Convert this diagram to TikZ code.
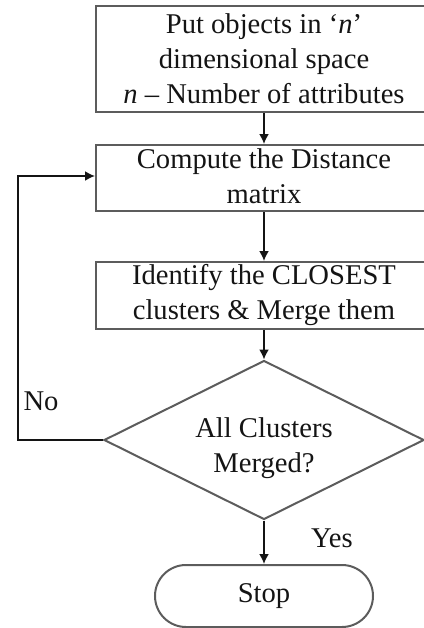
\documentclass[tikz,border=0pt]{standalone}
\usepackage{fontspec}
\setmainfont{Liberation Serif}
\usetikzlibrary{arrows.meta,positioning,shapes.geometric}
\definecolor{fcEdge}{HTML}{5C5C5C}
\definecolor{fcInk}{HTML}{141414}

\begin{document}
\begin{tikzpicture}[x=0.5pt,y=-0.5pt,
    every node/.style={font=\fontsize{14.3}{17.5}\selectfont,text=fcInk},
    stepbox/.style={draw=fcEdge,line width=1pt,rectangle,
      minimum width=168pt,inner sep=0pt,align=center},
    flow/.style={fcInk,line width=0.9pt,-{Latex[length=5pt,width=5pt]}}]
  \useasboundingbox (0,0) rectangle (424,628);
  \clip (0,0) rectangle (424,628);
  \node[stepbox,minimum height=53pt] (put) at (264,59)
    {Put objects in ‘\textit{n}’\\dimensional space\\\textit{n} -- Number of attributes};
  \node[stepbox,minimum height=33pt,text depth=2pt] (dist) at (264,178)
    {Compute the Distance\\matrix};
  \node[stepbox,minimum height=33.5pt] (merge) at (264,295.5)
    {Identify the CLOSEST\\clusters \& Merge them};
  \node[draw=fcEdge,line width=1pt,diamond,minimum width=160pt,
    minimum height=79.5pt,inner sep=0pt,align=center] (check) at (264,440) {};
  \node[align=center] (checktext) at (264,448) {All Clusters\\Merged?};
  \node[draw=fcEdge,line width=1pt,rectangle,rounded corners=15.5pt,
    minimum width=109pt,minimum height=31pt] (stop) at (264,596) {Stop};
  \coordinate (back) at (18,176);
  \draw[flow] (put) -- (dist);
  \draw[flow] (dist) -- (merge);
  \draw[flow] (merge) -- (check);
  \draw[flow] (check) -- (stop);
  \draw[flow] (check.west) -| (back) -- (dist.west |- back);
  \node (no) at (41,401) {No};
  \node (yes) at (332,538) {Yes};
\end{tikzpicture}
\end{document}
